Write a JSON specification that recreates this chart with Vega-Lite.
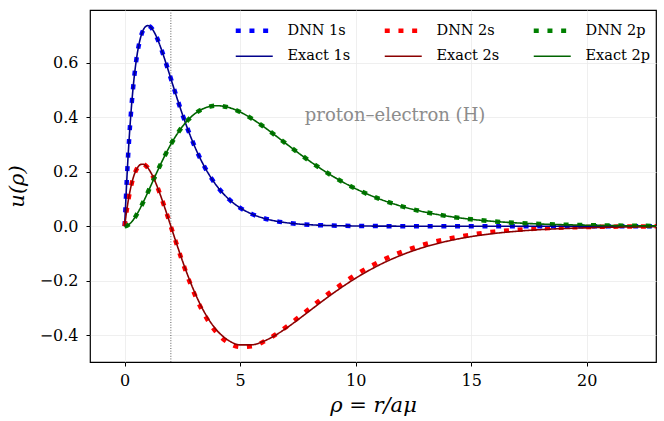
{
  "$schema": "https://vega.github.io/schema/vega-lite/v6.json",
  "width": 566,
  "height": 352,
  "autosize": {"type": "none"},
  "padding": {"left": 90, "top": 10, "right": 8, "bottom": 59},
  "background": "#ffffff",
  "config": {
    "font": "DejaVu Serif",
    "view": {"stroke": "#000000", "strokeWidth": 1.2},
    "axis": {
      "domain": false,
      "grid": true,
      "gridColor": "#ebebeb",
      "gridWidth": 0.8,
      "tickColor": "#000000",
      "tickSize": 4,
      "tickWidth": 1,
      "labelFont": "DejaVu Serif",
      "labelFontSize": 16,
      "labelColor": "#000000",
      "titleFont": "DejaVu Serif",
      "titleFontSize": 21,
      "titleFontWeight": "normal",
      "titleFontStyle": "italic",
      "titleColor": "#000000"
    },
    "legend": {
      "labelFont": "DejaVu Serif",
      "labelFontSize": 14.5,
      "labelColor": "#000000",
      "padding": 0
    }
  },
  "datasets": {
    "curves": [
      {"rho": 0, "Exact 1s": 0, "Exact 2s": 0, "Exact 2p": 0, "DNN 1s": 0, "DNN 2s": 0, "DNN 2p": 0},
      {"rho": 0.1, "Exact 1s": 0.181, "Exact 2s": 0.0639, "Exact 2p": 0.0019, "DNN 1s": 0.181, "DNN 2s": 0.0639, "DNN 2p": 0.0019},
      {"rho": 0.2, "Exact 1s": 0.3275, "Exact 2s": 0.1152, "Exact 2p": 0.0074, "DNN 1s": 0.3275, "DNN 2s": 0.1152, "DNN 2p": 0.0074},
      {"rho": 0.3, "Exact 1s": 0.4445, "Exact 2s": 0.1552, "Exact 2p": 0.0158, "DNN 1s": 0.4445, "DNN 2s": 0.1552, "DNN 2p": 0.0158},
      {"rho": 0.4, "Exact 1s": 0.5363, "Exact 2s": 0.1853, "Exact 2p": 0.0267, "DNN 1s": 0.5363, "DNN 2s": 0.1853, "DNN 2p": 0.0267},
      {"rho": 0.5, "Exact 1s": 0.6065, "Exact 2s": 0.2065, "Exact 2p": 0.0397, "DNN 1s": 0.6065, "DNN 2s": 0.2065, "DNN 2p": 0.0397},
      {"rho": 0.6, "Exact 1s": 0.6586, "Exact 2s": 0.22, "Exact 2p": 0.0544, "DNN 1s": 0.6586, "DNN 2s": 0.22, "DNN 2p": 0.0544},
      {"rho": 0.7, "Exact 1s": 0.6952, "Exact 2s": 0.2267, "Exact 2p": 0.0705, "DNN 1s": 0.6952, "DNN 2s": 0.2267, "DNN 2p": 0.0705},
      {"rho": 0.8, "Exact 1s": 0.7189, "Exact 2s": 0.2275, "Exact 2p": 0.0876, "DNN 1s": 0.7189, "DNN 2s": 0.2275, "DNN 2p": 0.0876},
      {"rho": 0.9, "Exact 1s": 0.7318, "Exact 2s": 0.2232, "Exact 2p": 0.1054, "DNN 1s": 0.7318, "DNN 2s": 0.2232, "DNN 2p": 0.1054},
      {"rho": 1.0, "Exact 1s": 0.7358, "Exact 2s": 0.2144, "Exact 2p": 0.1238, "DNN 1s": 0.7358, "DNN 2s": 0.2144, "DNN 2p": 0.1238},
      {"rho": 1.1, "Exact 1s": 0.7323, "Exact 2s": 0.2019, "Exact 2p": 0.1425, "DNN 1s": 0.7323, "DNN 2s": 0.2019, "DNN 2p": 0.1425},
      {"rho": 1.2, "Exact 1s": 0.7229, "Exact 2s": 0.1863, "Exact 2p": 0.1613, "DNN 1s": 0.7229, "DNN 2s": 0.1863, "DNN 2p": 0.1613},
      {"rho": 1.3, "Exact 1s": 0.7086, "Exact 2s": 0.168, "Exact 2p": 0.1801, "DNN 1s": 0.7086, "DNN 2s": 0.168, "DNN 2p": 0.1801},
      {"rho": 1.4, "Exact 1s": 0.6905, "Exact 2s": 0.1475, "Exact 2p": 0.1987, "DNN 1s": 0.6905, "DNN 2s": 0.1475, "DNN 2p": 0.1987},
      {"rho": 1.5, "Exact 1s": 0.6694, "Exact 2s": 0.1253, "Exact 2p": 0.2169, "DNN 1s": 0.6694, "DNN 2s": 0.1253, "DNN 2p": 0.2169},
      {"rho": 1.6, "Exact 1s": 0.6461, "Exact 2s": 0.1017, "Exact 2p": 0.2348, "DNN 1s": 0.6461, "DNN 2s": 0.1017, "DNN 2p": 0.2348},
      {"rho": 1.7, "Exact 1s": 0.6211, "Exact 2s": 0.0771, "Exact 2p": 0.2521, "DNN 1s": 0.6211, "DNN 2s": 0.0771, "DNN 2p": 0.2521},
      {"rho": 1.8, "Exact 1s": 0.5951, "Exact 2s": 0.0517, "Exact 2p": 0.2689, "DNN 1s": 0.5951, "DNN 2s": 0.0517, "DNN 2p": 0.2689},
      {"rho": 1.9, "Exact 1s": 0.5684, "Exact 2s": 0.026, "Exact 2p": 0.285, "DNN 1s": 0.5684, "DNN 2s": 0.026, "DNN 2p": 0.285},
      {"rho": 2.0, "Exact 1s": 0.5413, "Exact 2s": 0, "Exact 2p": 0.3004, "DNN 1s": 0.5413, "DNN 2s": -0.001, "DNN 2p": 0.3004},
      {"rho": 2.25, "Exact 1s": 0.4743, "Exact 2s": -0.0646, "Exact 2p": 0.3355, "DNN 1s": 0.4743, "DNN 2s": -0.066, "DNN 2p": 0.3355},
      {"rho": 2.5, "Exact 1s": 0.4104, "Exact 2s": -0.1266, "Exact 2p": 0.3655, "DNN 1s": 0.4104, "DNN 2s": -0.13, "DNN 2p": 0.3655},
      {"rho": 2.75, "Exact 1s": 0.3516, "Exact 2s": -0.1844, "Exact 2p": 0.3903, "DNN 1s": 0.3516, "DNN 2s": -0.19, "DNN 2p": 0.3903},
      {"rho": 3.0, "Exact 1s": 0.2987, "Exact 2s": -0.2367, "Exact 2p": 0.4099, "DNN 1s": 0.2987, "DNN 2s": -0.244, "DNN 2p": 0.4099},
      {"rho": 3.25, "Exact 1s": 0.252, "Exact 2s": -0.2828, "Exact 2p": 0.4246, "DNN 1s": 0.252, "DNN 2s": -0.291, "DNN 2p": 0.4246},
      {"rho": 3.5, "Exact 1s": 0.2114, "Exact 2s": -0.3226, "Exact 2p": 0.4345, "DNN 1s": 0.2114, "DNN 2s": -0.331, "DNN 2p": 0.4345},
      {"rho": 3.75, "Exact 1s": 0.1764, "Exact 2s": -0.3558, "Exact 2p": 0.4402, "DNN 1s": 0.1764, "DNN 2s": -0.365, "DNN 2p": 0.4402},
      {"rho": 4.0, "Exact 1s": 0.1465, "Exact 2s": -0.3828, "Exact 2p": 0.442, "DNN 1s": 0.1465, "DNN 2s": -0.392, "DNN 2p": 0.442},
      {"rho": 4.5, "Exact 1s": 0.1, "Exact 2s": -0.4192, "Exact 2p": 0.4357, "DNN 1s": 0.1, "DNN 2s": -0.428, "DNN 2p": 0.4357},
      {"rho": 5.0, "Exact 1s": 0.0674, "Exact 2s": -0.4353, "Exact 2p": 0.4189, "DNN 1s": 0.0674, "DNN 2s": -0.443, "DNN 2p": 0.4189},
      {"rho": 5.5, "Exact 1s": 0.045, "Exact 2s": -0.4351, "Exact 2p": 0.3947, "DNN 1s": 0.045, "DNN 2s": -0.44, "DNN 2p": 0.3947},
      {"rho": 6.0, "Exact 1s": 0.0298, "Exact 2s": -0.4225, "Exact 2p": 0.3659, "DNN 1s": 0.0298, "DNN 2s": -0.424, "DNN 2p": 0.3659},
      {"rho": 6.5, "Exact 1s": 0.0195, "Exact 2s": -0.401, "Exact 2p": 0.3344, "DNN 1s": 0.0195, "DNN 2s": -0.399, "DNN 2p": 0.3344},
      {"rho": 7.0, "Exact 1s": 0.0128, "Exact 2s": -0.3737, "Exact 2p": 0.302, "DNN 1s": 0.0128, "DNN 2s": -0.369, "DNN 2p": 0.302},
      {"rho": 7.5, "Exact 1s": 0.0083, "Exact 2s": -0.343, "Exact 2p": 0.27, "DNN 1s": 0.0083, "DNN 2s": -0.336, "DNN 2p": 0.27},
      {"rho": 8.0, "Exact 1s": 0.0054, "Exact 2s": -0.3108, "Exact 2p": 0.2393, "DNN 1s": 0.0054, "DNN 2s": -0.302, "DNN 2p": 0.2393},
      {"rho": 8.5, "Exact 1s": 0.0035, "Exact 2s": -0.2786, "Exact 2p": 0.2104, "DNN 1s": 0.0035, "DNN 2s": -0.268, "DNN 2p": 0.2104},
      {"rho": 9.0, "Exact 1s": 0.0022, "Exact 2s": -0.2474, "Exact 2p": 0.1837, "DNN 1s": 0.0022, "DNN 2s": -0.236, "DNN 2p": 0.1837},
      {"rho": 9.5, "Exact 1s": 0.0014, "Exact 2s": -0.218, "Exact 2p": 0.1594, "DNN 1s": 0.0014, "DNN 2s": -0.206, "DNN 2p": 0.1594},
      {"rho": 10, "Exact 1s": 0.0009, "Exact 2s": -0.1906, "Exact 2p": 0.1375, "DNN 1s": 0.0009, "DNN 2s": -0.178, "DNN 2p": 0.1375},
      {"rho": 11, "Exact 1s": 0.0004, "Exact 2s": -0.1431, "Exact 2p": 0.1009, "DNN 1s": 0.0004, "DNN 2s": -0.131, "DNN 2p": 0.1009},
      {"rho": 12, "Exact 1s": 0.0001, "Exact 2s": -0.1052, "Exact 2p": 0.0729, "DNN 1s": 0.0001, "DNN 2s": -0.094, "DNN 2p": 0.0729},
      {"rho": 13, "Exact 1s": 0, "Exact 2s": -0.076, "Exact 2p": 0.0518, "DNN 1s": 0, "DNN 2s": -0.066, "DNN 2p": 0.0518},
      {"rho": 14, "Exact 1s": 0, "Exact 2s": -0.0542, "Exact 2p": 0.0365, "DNN 1s": 0, "DNN 2s": -0.046, "DNN 2p": 0.0365},
      {"rho": 15, "Exact 1s": 0, "Exact 2s": -0.0381, "Exact 2p": 0.0254, "DNN 1s": 0, "DNN 2s": -0.031, "DNN 2p": 0.0254},
      {"rho": 16, "Exact 1s": 0, "Exact 2s": -0.0265, "Exact 2p": 0.0175, "DNN 1s": 0, "DNN 2s": -0.02, "DNN 2p": 0.0175},
      {"rho": 17, "Exact 1s": 0, "Exact 2s": -0.0183, "Exact 2p": 0.012, "DNN 1s": 0, "DNN 2s": -0.013, "DNN 2p": 0.012},
      {"rho": 18, "Exact 1s": 0, "Exact 2s": -0.0125, "Exact 2p": 0.0081, "DNN 1s": 0, "DNN 2s": -0.008, "DNN 2p": 0.0081},
      {"rho": 20, "Exact 1s": 0, "Exact 2s": -0.0058, "Exact 2p": 0.0037, "DNN 1s": 0, "DNN 2s": -0.003, "DNN 2p": 0.0037},
      {"rho": 22, "Exact 1s": 0, "Exact 2s": -0.0026, "Exact 2p": 0.0017, "DNN 1s": 0, "DNN 2s": -0.001, "DNN 2p": 0.0017},
      {"rho": 24, "Exact 1s": 0, "Exact 2s": -0.0011, "Exact 2p": 0.0007, "DNN 1s": 0, "DNN 2s": 0, "DNN 2p": 0.0007}
    ]
  },
  "layer": [
    {
      "data": {"values": [{"rho": 2}]},
      "mark": {"type": "rule", "color": "#333333", "strokeWidth": 0.8, "strokeDash": [1, 1.6]},
      "encoding": {
        "x": {"field": "rho", "type": "quantitative"}
      }
    },
    {
      "data": {"name": "curves"},
      "transform": [{"fold": ["DNN 1s", "DNN 2s", "DNN 2p"], "as": ["series", "u"]}],
      "mark": {"type": "line", "strokeWidth": 4.5, "interpolate": "monotone", "clip": true},
      "encoding": {
        "x": {
          "field": "rho", "type": "quantitative",
          "scale": {"domain": [-1.5, 23], "nice": false, "zero": false},
          "axis": {"values": [0, 5, 10, 15, 20], "format": "d", "title": "ρ = r/aμ", "labelPadding": 6, "titlePadding": 6}
        },
        "y": {
          "field": "u", "type": "quantitative",
          "scale": {"domain": [-0.498, 0.793], "nice": false, "zero": false},
          "axis": {"values": [-0.4, -0.2, 0, 0.2, 0.4, 0.6], "format": ".1f", "title": "u(ρ)", "labelPadding": 8, "titlePadding": 12}
        },
        "color": {
          "field": "series", "type": "nominal",
          "scale": {
            "domain": ["DNN 1s", "Exact 1s", "DNN 2s", "Exact 2s", "DNN 2p", "Exact 2p"],
            "range": ["#0000ff", "#00008b", "#ff0000", "#8b0000", "#008000", "#006400"]
          },
          "legend": {
            "title": null, "orient": "none", "legendX": 157, "legendY": 13, "columns": 3,
            "columnPadding": 24, "rowPadding": 8, "symbolType": "stroke", "symbolSize": 1369,
            "labelOffset": 26,
            "encode": {"symbols": {"update": {"strokeWidth": {"signal": "indexof(['DNN 1s','DNN 2s','DNN 2p'], datum.value) >= 0 ? 4.5 : 1.6"}}}}
          }
        },
        "strokeDash": {
          "field": "series", "type": "nominal",
          "scale": {
            "domain": ["DNN 1s", "Exact 1s", "DNN 2s", "Exact 2s", "DNN 2p", "Exact 2p"],
            "range": [[5, 8.7], [1, 0], [5, 8.7], [1, 0], [5, 8.7], [1, 0]]
          },
          "legend": {
            "title": null, "orient": "none", "legendX": 157, "legendY": 13, "columns": 3,
            "columnPadding": 24, "rowPadding": 8, "symbolType": "stroke", "symbolSize": 1369,
            "labelOffset": 26,
            "encode": {"symbols": {"update": {"strokeWidth": {"signal": "indexof(['DNN 1s','DNN 2s','DNN 2p'], datum.value) >= 0 ? 4.5 : 1.6"}}}}
          }
        }
      }
    },
    {
      "data": {"name": "curves"},
      "transform": [{"fold": ["Exact 1s", "Exact 2s", "Exact 2p"], "as": ["series", "u"]}],
      "mark": {"type": "line", "strokeWidth": 1.6, "interpolate": "monotone", "clip": true},
      "encoding": {
        "x": {"field": "rho", "type": "quantitative"},
        "y": {"field": "u", "type": "quantitative"},
        "color": {"field": "series", "type": "nominal"},
        "strokeDash": {"field": "series", "type": "nominal"}
      }
    },
    {
      "data": {"values": [{"rho": 7.8, "u": 0.405, "label": "proton–electron (H)"}]},
      "mark": {"type": "text", "align": "left", "baseline": "middle", "fontSize": 18, "color": "#8c8c8c", "font": "DejaVu Serif"},
      "encoding": {
        "x": {"field": "rho", "type": "quantitative"},
        "y": {"field": "u", "type": "quantitative"},
        "text": {"field": "label"}
      }
    }
  ]
}
